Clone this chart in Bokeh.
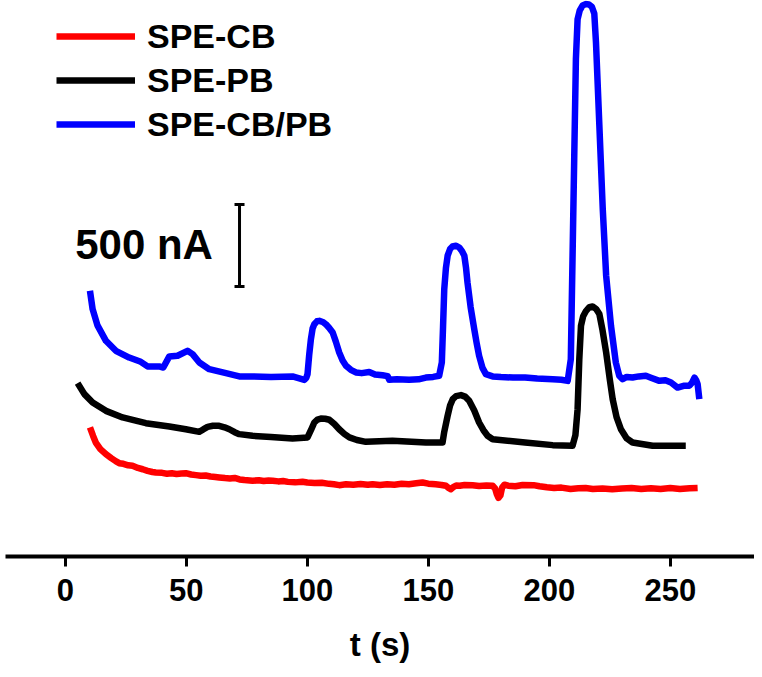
from bokeh.plotting import figure
from bokeh.models import Range1d, Legend, LegendItem, FixedTicker
from bokeh.core.properties import value
from bokeh.embed import file_html
from bokeh.resources import INLINE

# ---- data (time in s, current in nA; curves offset vertically as in the figure) ----
t_cb = [10.2, 11.5, 12.6, 14.5, 16.8, 19, 21, 22.3, 24, 26, 27.8, 30, 32, 34, 36, 37.4, 40, 42,
        44, 46, 48, 49.8, 52, 54, 56, 58, 60, 62, 63.6, 66, 68, 70, 72, 74, 77.4, 80, 82, 84,
        85.7, 88, 90, 92, 95, 98, 100, 103, 106, 109, 111, 113.2, 116, 119, 122, 125, 127,
        130, 133, 136, 139, 142, 145, 147.6, 150, 153, 155.5, 157.3, 158.4, 159.3, 160.5,
        161.5, 163, 165, 168.3, 171, 174, 176.6, 177.6, 178.3, 179, 179.8, 180.5, 181.5, 183,
        186, 189, 193.5, 196, 199, 202, 205, 208.8, 212, 215, 218, 222, 226, 230, 234, 238,
        242, 246, 250, 254, 258, 261.3]
i_cb = [787, 735, 695, 655, 624, 600, 580, 569, 565, 556, 553, 540, 532, 522, 515, 512, 510, 505,
        508, 503, 506, 508, 500, 496, 492, 494, 488, 485, 482, 478, 476, 479, 470, 466, 462, 465,
        460, 463, 462, 458, 460, 455, 452, 456, 451, 448, 450, 443, 440, 435, 440, 438, 442,
        437, 441, 436, 440, 438, 443, 441, 446, 451, 444, 440, 436, 431, 418, 410, 425,
        433, 431, 436, 435, 430, 433, 431, 415, 380, 358, 372, 420, 438, 432,
        428, 436, 435, 428, 422, 418, 420, 412, 416, 418, 412, 415, 410, 415, 418, 412,
        416, 412, 418, 412, 416, 418]

t_pb = [5.1, 7.9, 11.3, 16.8, 23.7, 33.3, 43.0, 49.8, 55.4, 57.0, 58.8, 61.0, 63.6, 65.8, 67.8,
        70.0, 71.9, 77.4, 85.0, 93.9, 100.1, 101.5, 102.9, 104.2, 105.6, 107.4, 109.1, 111.2,
        113.2, 115.3, 117.4, 120.5, 124.2, 135.2, 149.0, 155.9, 156.6, 158.0, 159.0, 160.1,
        161.5, 163.5, 165.2, 166.9, 169.0, 171.0, 172.8, 174.5, 176.6, 190.0, 201.4, 209.6,
        210.8, 211.7, 212.4, 213.1, 214.0, 215.1, 216.5, 217.9, 219.3, 220.7, 222.0, 223.5,
        225.0, 226.2, 227.8, 229.6, 232.0, 234.4, 242.7, 256.4]
i_pb = [1057, 990, 939, 888, 848, 813, 793, 776, 760, 775, 790, 797, 797, 788, 776,
        758, 746, 736, 728, 720, 726, 770, 817, 835, 841, 840, 834, 808,
        776, 748, 726, 710, 699, 706, 695, 695, 760, 858, 920, 959,
        978, 984, 975, 949, 890, 817, 770, 736, 715, 695, 679, 675,
        740, 898, 1200, 1407, 1465, 1495, 1520, 1524, 1510, 1478, 1380, 1244,
        1080, 959, 850, 776, 720, 695, 675, 675]

t_cbpb = [10.2, 11.3, 13.3, 16.8, 20.9, 26.4, 31.2, 34.0, 38.8, 40.5, 43.0, 46.4, 50.5, 52.6,
          55.4, 59.5, 66.4, 71.9, 77.4, 85.0, 93.9, 98.8, 99.6, 100.1, 100.8, 101.5, 102.2,
          102.9, 104.0, 105.0, 106.4, 107.7, 109.0, 110.5, 111.8, 113.2, 114.6, 116.0, 118.0,
          120.1, 122.5, 125.6, 128.0, 131.1, 133.2, 133.9, 137.0, 142.1, 146.0, 149.0, 152.0,
          154.5, 155.6, 156.1, 156.6, 157.3, 158.0, 159.0, 160.0, 161.5, 162.8, 164.0, 164.9,
          165.6, 166.2, 167.5, 169.0, 170.0, 171.0, 172.4, 173.8, 176.6, 180.0, 185.0, 190.0,
          195.0, 201.4, 205.0, 207.6, 208.9, 209.6, 210.3, 211.0, 211.7, 212.6, 213.8, 215.0,
          216.4, 217.6, 218.6, 219.3, 220.7, 222.1, 223.5, 225.5, 227.5, 228.9, 230.3, 232.0,
          234.4, 237.0, 239.9, 242.0, 245.5, 248.0, 250.3, 253.0, 255.5, 257.9, 259.0, 260.0,
          260.7, 261.3, 262.0]
i_cbpb = [1620, 1508, 1409, 1315, 1254, 1213, 1187, 1159, 1159, 1152, 1220, 1224, 1254, 1234,
          1183, 1142, 1118, 1098, 1098, 1095, 1098, 1077, 1090, 1112, 1230, 1325, 1390,
          1416, 1434, 1437, 1430, 1416, 1395, 1366, 1310, 1244, 1195, 1163, 1138,
          1122, 1118, 1125, 1110, 1105, 1100, 1077, 1080, 1077, 1080, 1091, 1095,
          1102, 1183, 1400, 1630, 1760, 1834, 1875, 1890, 1895, 1884, 1860, 1834,
          1760, 1671, 1520, 1386, 1300, 1224, 1150, 1112, 1098, 1094, 1091, 1092,
          1085, 1081, 1078, 1071, 1203, 1813, 2423, 3032, 3276, 3330, 3360, 3368,
          3366, 3352, 3310, 3134, 2626, 2118, 1712, 1407, 1183, 1102, 1081, 1095,
          1091, 1098, 1102, 1090, 1071, 1075, 1061, 1030, 1041, 1041, 1060, 1091,
          1075, 1051, 959]

series_names = ["SPE-CB", "SPE-PB", "SPE-CB/PB"]
series_colors = ["#FF0000", "#000000", "#0000FF"]

x_ticks = [0, 50, 100, 150, 200, 250]
x_title = "t (s)"

scale_t = 72.0          # position of the scale bar (s)
scale_bottom = 1646.0   # nA
scale_len = 500.0       # nA
scale_label = "500 nA"
scale_label_t = 61.0
scale_label_i = 1900.0

FONT = "Liberation Sans"

p = figure(width=754, height=669, output_backend="svg", toolbar_location=None,
           x_range=Range1d(-24.7, 284.8), y_range=Range1d(0, 3390),
           y_axis_location=None, min_border_left=5, min_border_right=0,
           min_border_top=0, min_border_bottom=113)
p.outline_line_color = None
p.xgrid.visible = False
p.ygrid.visible = False
p.background_fill_color = "white"

ax = p.xaxis[0]
ax.ticker = FixedTicker(ticks=x_ticks)
ax.axis_line_width = 4
ax.axis_line_color = "black"
ax.major_tick_line_width = 3
ax.major_tick_line_color = "black"
ax.major_tick_out = 10
ax.major_tick_in = 0
ax.minor_tick_line_color = None
ax.major_label_text_font = FONT
ax.major_label_text_font_style = "bold"
ax.major_label_text_font_size = "31px"
ax.major_label_text_color = "black"
ax.major_label_standoff = 12
ax.axis_label = x_title
ax.axis_label_text_font = FONT
ax.axis_label_text_font_style = "bold"
ax.axis_label_text_font_size = "33px"
ax.axis_label_text_color = "black"
ax.axis_label_standoff = 22

renderers = []
for (tt, ii), name, col in zip([(t_cb, i_cb), (t_pb, i_pb), (t_cbpb, i_cbpb)],
                               series_names, series_colors):
    r = p.line(tt, ii, line_color=col, line_width=6.5, line_join="round", line_cap="butt")
    renderers.append(r)

# scale bar
p.segment(x0=[scale_t], y0=[scale_bottom], x1=[scale_t], y1=[scale_bottom + scale_len],
          line_color="black", line_width=3)
p.scatter(x=[scale_t, scale_t], y=[scale_bottom, scale_bottom + scale_len], marker="dash",
          size=10, line_color="black", line_width=3)
p.text(x=[scale_label_t], y=[scale_label_i], text=[scale_label], text_align="right",
       text_baseline="alphabetic", text_font=value(FONT), text_font_style="bold",
       text_font_size="42px", text_color="black")

legend = Legend(items=[LegendItem(label=n, renderers=[r]) for n, r in zip(series_names, renderers)],
                location=(51, 410), orientation="vertical",
                label_text_font=FONT, label_text_font_style="bold", label_text_font_size="34px",
                label_text_color="black",
                glyph_width=79, glyph_height=44, label_height=44, label_standoff=12,
                spacing=0, padding=0, margin=0, border_line_alpha=0, background_fill_alpha=0)
p.add_layout(legend)

open("out.html", "w").write(file_html(p, INLINE))
